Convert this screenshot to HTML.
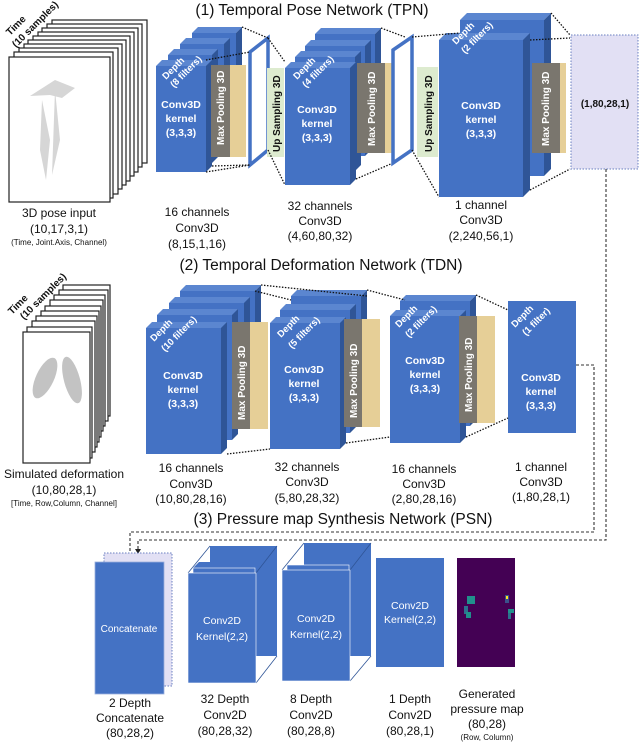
<!DOCTYPE html>
<html><head><meta charset="utf-8"><style>
html,body{margin:0;padding:0;background:#fff}
svg{display:block}
text{font-family:"Liberation Sans",sans-serif}
.w{fill:#fff;font-size:10.5px;font-weight:bold;text-anchor:middle}
.l{fill:#111;font-size:12px;text-anchor:middle}
.s{fill:#111;font-size:8px;text-anchor:middle}
.t{fill:#111;font-size:15.5px;text-anchor:middle}
.f{fill:#4472C4}.tp{fill:#5B86D0}.sd{fill:#2F5597}
.dot{stroke:#111;stroke-width:1.3;stroke-dasharray:1.5 1.5;fill:none}
.dash{stroke:#333;stroke-width:1.1;stroke-dasharray:3 2;fill:none}
.fr{fill:#fff;stroke:#222;stroke-width:1.2}
</style></head><body>
<svg width="640" height="743" viewBox="0 0 640 743" xmlns="http://www.w3.org/2000/svg">
<defs>
<g id="b">
</g>
</defs>
<!-- ============ TPN ============ -->
<text class="t" x="312" y="15">(1) Temporal Pose Network (TPN)</text>

<!-- input frames -->
<g>
<rect class="fr" x="52" y="20" width="95" height="143" stroke="#aaa"/>
<rect class="fr" x="47" y="24" width="95" height="143" stroke="#999"/>
<rect class="fr" x="42" y="28" width="96" height="144"/>
<rect class="fr" x="38" y="32" width="96" height="144" stroke="#999"/>
<rect class="fr" x="33" y="36" width="97" height="145"/>
<rect class="fr" x="28" y="40" width="98" height="145" stroke="#aaa"/>
<rect class="fr" x="24" y="44" width="98" height="145"/>
<rect class="fr" x="19" y="48" width="99" height="146" stroke="#999"/>
<rect class="fr" x="14" y="52" width="99" height="146"/>
<rect class="fr" x="9" y="57" width="101" height="145" stroke="#111" stroke-width="1.5"/>
<path d="M30,96 L55,80 L75,88 L62,98 L50,95 Z M42,100 L50,140 L46,180 L40,150 Z M55,90 L60,140 L52,175 Z" fill="#ccc" opacity="0.8"/>
<text x="0" y="0" transform="translate(10,36) rotate(-45)" style="font-size:10px;font-weight:bold;fill:#111">Time</text>
<text x="0" y="0" transform="translate(16,48) rotate(-45)" style="font-size:10px;font-weight:bold;fill:#111">(10 samples)</text>
</g>
<text class="l" x="59" y="217">3D pose input</text>
<text class="l" x="59" y="233">(10,17,3,1)</text>
<text class="s" x="59" y="245">(Time, Joint.Axis, Channel)</text>

<!-- TPN block1 -->
<g>
<polygon class="tp" points="192,33 198,27 242,27 236,33"/><polygon class="sd" points="236,33 242,27 242,132 236,138"/><rect class="f" x="192" y="33" width="44" height="105"/>
<polygon class="tp" points="180,44 186,38 230,38 224,44"/><polygon class="sd" points="224,44 230,38 230,143 224,149"/><rect class="f" x="180" y="44" width="44" height="105"/>
<polygon class="tp" points="168,55 174,49 218,49 212,55"/><polygon class="sd" points="212,55 218,49 218,157 212,163"/><rect class="f" x="168" y="55" width="44" height="108"/>
<polygon class="tp" points="156,66 162,60 212,60 206,66"/><polygon class="sd" points="206,66 212,60 212,166 206,172"/><rect class="f" x="156" y="66" width="50" height="106"/>
<rect x="211" y="65" width="35" height="92" fill="#E6CF97"/><rect x="211" y="65" width="19" height="92" fill="#666" opacity="0.85"/>
<text x="0" y="0" transform="translate(224,145) rotate(-90)" style="font-size:10px;font-weight:bold;fill:#fff">Max Pooling 3D</text>
<text x="0" y="0" transform="translate(166,80) rotate(-45)" style="font-size:9.5px;font-weight:bold;fill:#fff">Depth</text>
<text x="0" y="0" transform="translate(174,88) rotate(-45)" style="font-size:9.5px;font-weight:bold;fill:#fff">(8 filters)</text>
<text class="w" x="181" y="108">Conv3D</text><text class="w" x="181" y="122">kernel</text><text class="w" x="181" y="136">(3,3,3)</text>
</g>
<polygon points="250,52 268,38 268,150 250,165" fill="#fff" stroke="#4472C4" stroke-width="3.5"/>
<rect x="267" y="68" width="17" height="89" fill="#DDEBCF"/>
<text x="0" y="0" transform="translate(280,152) rotate(-90)" style="font-size:10px;font-weight:bold;fill:#111">Up Sampling 3D</text>
<path class="dot" d="M206,60 L250,52 M242,27 L268,38 M212,166 L250,165 M206,172 L250,165"/>

<!-- TPN block2 -->
<g>
<polygon class="tp" points="315,34 321,28 381,28 375,34"/><polygon class="sd" points="375,34 381,28 381,133 375,139"/><rect class="f" x="315" y="34" width="60" height="105"/>
<polygon class="tp" points="305,46 311,40 371,40 365,46"/><polygon class="sd" points="365,46 371,40 371,150 365,156"/><rect class="f" x="305" y="46" width="60" height="110"/>
<polygon class="tp" points="295,57 301,51 361,51 355,57"/><polygon class="sd" points="355,57 361,51 361,165 355,171"/><rect class="f" x="295" y="57" width="60" height="114"/>
<polygon class="tp" points="285,68 291,62 356,62 350,68"/><polygon class="sd" points="350,68 356,62 356,179 350,185"/><rect class="f" x="285" y="68" width="65" height="117"/>
<rect x="357" y="63" width="36" height="90" fill="#E6CF97"/><rect x="357" y="63" width="28" height="90" fill="#666" opacity="0.85"/>
<text x="0" y="0" transform="translate(375,146) rotate(-90)" style="font-size:10px;font-weight:bold;fill:#fff">Max Pooling 3D</text>
<text x="0" y="0" transform="translate(297,80) rotate(-45)" style="font-size:9.5px;font-weight:bold;fill:#fff">Depth</text>
<text x="0" y="0" transform="translate(306,88) rotate(-45)" style="font-size:9.5px;font-weight:bold;fill:#fff">(4 filters)</text>
<text class="w" x="317" y="113">Conv3D</text><text class="w" x="317" y="127">kernel</text><text class="w" x="317" y="141">(3,3,3)</text>
</g>
<path class="dot" d="M268,38 L285,62 M268,150 L285,185 M381,28 L405,37 M356,179 L393,163"/>
<polygon points="393,50 412,37 412,150 393,163" fill="#fff" stroke="#4472C4" stroke-width="3.5"/>
<rect x="417" y="67" width="21" height="90" fill="#DDEBCF"/>
<text x="0" y="0" transform="translate(432,152) rotate(-90)" style="font-size:10px;font-weight:bold;fill:#111">Up Sampling 3D</text>

<!-- TPN block3 -->
<g>
<polygon class="tp" points="460,20 467,13 551,13 544,20"/><polygon class="sd" points="544,20 551,13 551,169 544,176"/><rect class="f" x="460" y="20" width="84" height="156"/>
<polygon class="tp" points="439,40 446,33 530,33 523,40"/><polygon class="sd" points="523,40 530,33 530,190 523,197"/><rect class="f" x="439" y="40" width="84" height="157"/>
<rect x="532" y="63" width="34" height="90" fill="#E6CF97"/><rect x="532" y="63" width="28" height="90" fill="#666" opacity="0.85"/>
<text x="0" y="0" transform="translate(549,146) rotate(-90)" style="font-size:10px;font-weight:bold;fill:#fff">Max Pooling 3D</text>
<text x="0" y="0" transform="translate(456,45) rotate(-45)" style="font-size:9.5px;font-weight:bold;fill:#fff">Depth</text>
<text x="0" y="0" transform="translate(465,54) rotate(-45)" style="font-size:9.5px;font-weight:bold;fill:#fff">(2 filters)</text>
<text class="w" x="481" y="109">Conv3D</text><text class="w" x="481" y="123">kernel</text><text class="w" x="481" y="137">(3,3,3)</text>
</g>
<path class="dot" d="M412,37 L460,33 M412,150 L439,197 M551,13 L570,35 M530,190 L570,169 M530,40 L570,38"/>
<rect x="571" y="35" width="67" height="134" fill="#E2E0F4" stroke="#6a7fc0" stroke-width="1" stroke-dasharray="1.5 1.5"/>
<text x="605" y="107" style="font-size:10px;font-weight:bold;fill:#111;text-anchor:middle">(1,80,28,1)</text>

<text class="l" x="197" y="216">16 channels</text><text class="l" x="197" y="232">Conv3D</text><text class="l" x="197" y="248">(8,15,1,16)</text>
<text class="l" x="320" y="210">32 channels</text><text class="l" x="320" y="225">Conv3D</text><text class="l" x="320" y="240">(4,60,80,32)</text>
<text class="l" x="481" y="209">1 channel</text><text class="l" x="481" y="224">Conv3D</text><text class="l" x="481" y="240">(2,240,56,1)</text>

<!-- ============ TDN ============ -->
<text class="t" x="321" y="270">(2) Temporal Deformation Network (TDN)</text>
<g>
<rect class="fr" x="63" y="285" width="47" height="131" stroke="#bbb"/>
<rect class="fr" x="59" y="290" width="49" height="131" stroke="#aaa"/>
<rect class="fr" x="54" y="295" width="51" height="131"/>
<rect class="fr" x="50" y="300" width="53" height="131" stroke="#aaa"/>
<rect class="fr" x="45" y="306" width="56" height="131"/>
<rect class="fr" x="41" y="311" width="58" height="131" stroke="#aaa"/>
<rect class="fr" x="36" y="316" width="61" height="131"/>
<rect class="fr" x="32" y="321" width="63" height="131" stroke="#999"/>
<rect class="fr" x="27" y="327" width="65" height="131"/>
<rect class="fr" x="23" y="332" width="67" height="131" stroke="#111" stroke-width="1.5"/>
<ellipse cx="45" cy="378" rx="9" ry="22" fill="#aaa" opacity="0.7" transform="rotate(25 45 378)"/>
<ellipse cx="72" cy="380" rx="8" ry="24" fill="#aaa" opacity="0.7" transform="rotate(-15 72 380)"/>
<text x="0" y="0" transform="translate(12,315) rotate(-45)" style="font-size:10px;font-weight:bold;fill:#111">Time</text>
<text x="0" y="0" transform="translate(24,320) rotate(-45)" style="font-size:10px;font-weight:bold;fill:#111">(10 samples)</text>
</g>
<text class="l" x="64" y="478">Simulated deformation</text>
<text class="l" x="64" y="494">(10,80,28,1)</text>
<text class="s" x="64" y="506">[Time, Row,Column, Channel]</text>

<!-- TDN block1 -->
<g>
<polygon class="tp" points="180,291 186,285 261,285 255,291"/><polygon class="sd" points="255,291 261,285 261,405 255,411"/><rect class="f" x="180" y="291" width="75" height="120"/>
<polygon class="tp" points="169,303 175,297 250,297 244,303"/><polygon class="sd" points="244,303 250,297 250,418 244,424"/><rect class="f" x="169" y="303" width="75" height="121"/>
<polygon class="tp" points="157,315 163,309 238,309 232,315"/><polygon class="sd" points="232,315 238,309 238,434 232,440"/><rect class="f" x="157" y="315" width="75" height="125"/>
<polygon class="tp" points="146,328 152,322 227,322 221,328"/><polygon class="sd" points="221,328 227,322 227,448 221,454"/><rect class="f" x="146" y="328" width="75" height="126"/>
<rect x="232" y="322" width="36" height="107" fill="#E6CF97"/><rect x="232" y="322" width="18" height="107" fill="#666" opacity="0.85"/>
<text x="0" y="0" transform="translate(245,420) rotate(-90)" style="font-size:10px;font-weight:bold;fill:#fff">Max Pooling 3D</text>
<text x="0" y="0" transform="translate(154,342) rotate(-45)" style="font-size:9.5px;font-weight:bold;fill:#fff">Depth</text>
<text x="0" y="0" transform="translate(165,352) rotate(-45)" style="font-size:9.5px;font-weight:bold;fill:#fff">(10 filters)</text>
<text class="w" x="183" y="379">Conv3D</text><text class="w" x="183" y="393">kernel</text><text class="w" x="183" y="407">(3,3,3)</text>
</g>
<!-- TDN block2 -->
<g>
<polygon class="tp" points="291,296 297,290 367,290 361,296"/><polygon class="sd" points="361,296 367,290 367,410 361,416"/><rect class="f" x="291" y="296" width="70" height="120"/>
<polygon class="tp" points="280,310 286,304 356,304 350,310"/><polygon class="sd" points="350,310 356,304 356,427 350,433"/><rect class="f" x="280" y="310" width="70" height="123"/>
<polygon class="tp" points="270,323 276,317 346,317 340,323"/><polygon class="sd" points="340,323 346,317 346,443 340,449"/><rect class="f" x="270" y="323" width="70" height="126"/>
<rect x="344" y="319" width="36" height="108" fill="#E6CF97"/><rect x="344" y="319" width="18" height="108" fill="#666" opacity="0.85"/>
<text x="0" y="0" transform="translate(357,418) rotate(-90)" style="font-size:10px;font-weight:bold;fill:#fff">Max Pooling 3D</text>
<text x="0" y="0" transform="translate(281,338) rotate(-45)" style="font-size:9.5px;font-weight:bold;fill:#fff">Depth</text>
<text x="0" y="0" transform="translate(292,349) rotate(-45)" style="font-size:9.5px;font-weight:bold;fill:#fff">(5 filters)</text>
<text class="w" x="304" y="373">Conv3D</text><text class="w" x="304" y="387">kernel</text><text class="w" x="304" y="401">(3,3,3)</text>
</g>
<!-- TDN block3 -->
<g>
<polygon class="tp" points="400,301 406,295 476,295 470,301"/><polygon class="sd" points="470,301 476,295 476,420 470,426"/><rect class="f" x="400" y="301" width="70" height="125"/>
<polygon class="tp" points="390,316 396,310 466,310 460,316"/><polygon class="sd" points="460,316 466,310 466,437 460,443"/><rect class="f" x="390" y="316" width="70" height="127"/>
<rect x="459" y="316" width="36" height="107" fill="#E6CF97"/><rect x="459" y="316" width="18" height="107" fill="#666" opacity="0.85"/>
<text x="0" y="0" transform="translate(472,412) rotate(-90)" style="font-size:10px;font-weight:bold;fill:#fff">Max Pooling 3D</text>
<text x="0" y="0" transform="translate(399,328) rotate(-45)" style="font-size:9.5px;font-weight:bold;fill:#fff">Depth</text>
<text x="0" y="0" transform="translate(409,338) rotate(-45)" style="font-size:9.5px;font-weight:bold;fill:#fff">(2 filters)</text>
<text class="w" x="425" y="364">Conv3D</text><text class="w" x="425" y="378">kernel</text><text class="w" x="425" y="392">(3,3,3)</text>
</g>
<!-- TDN block4 -->
<rect class="f" x="508" y="301" width="68" height="132"/>
<text x="0" y="0" transform="translate(515,328) rotate(-45)" style="font-size:9.5px;font-weight:bold;fill:#fff">Depth</text>
<text x="0" y="0" transform="translate(526,336) rotate(-45)" style="font-size:9.5px;font-weight:bold;fill:#fff">(1 filter)</text>
<text class="w" x="541" y="381">Conv3D</text><text class="w" x="541" y="395">kernel</text><text class="w" x="541" y="409">(3,3,3)</text>
<path class="dot" d="M261,285 L367,296 M227,454 L270,449 M255,291 L291,300 M367,290 L405,300 M346,443 L390,437 M476,295 L508,310 M466,437 L508,418"/>

<text class="l" x="191" y="472">16 channels</text><text class="l" x="191" y="488">Conv3D</text><text class="l" x="191" y="503">(10,80,28,16)</text>
<text class="l" x="307" y="471">32 channels</text><text class="l" x="307" y="486">Conv3D</text><text class="l" x="307" y="502">(5,80,28,32)</text>
<text class="l" x="424" y="473">16 channels</text><text class="l" x="424" y="488">Conv3D</text><text class="l" x="424" y="503">(2,80,28,16)</text>
<text class="l" x="541" y="471">1 channel</text><text class="l" x="541" y="486">Conv3D</text><text class="l" x="541" y="501">(1,80,28,1)</text>

<!-- connectors -->
<path class="dash" d="M606,169 L606,540 L138,540 L138,549"/>
<polygon points="135,549 141,549 138,554" fill="#222"/>
<path class="dash" d="M576,365 L594,365 L594,532 L130,532 L130,558"/>
<polygon points="127,558 133,558 130,563" fill="#222"/>

<!-- ============ PSN ============ -->
<text class="t" x="343" y="524">(3) Pressure map Synthesis Network (PSN)</text>
<rect x="104" y="553" width="68" height="133" fill="#E2E0F4" stroke="#6a7fc0" stroke-dasharray="1.5 1.5"/>
<rect class="f" x="95" y="562" width="69" height="132" stroke="#9bb0dd" stroke-width="0.8"/>
<text class="w" x="129" y="632" style="font-weight:normal;font-size:10px">Concatenate</text>

<g>
<rect class="f" x="210" y="546" width="67" height="110"/>
<path d="M188,573 L210,546 M256,573 L277,546 M256,683 L277,656" stroke="#2F5597" stroke-width="0.8" fill="none"/>
<polygon class="f" points="193,568 199,562 260,562 254,568" />
<rect class="f" x="193" y="568" width="62" height="100" stroke="#fff" stroke-width="0.6"/>
<rect class="f" x="188" y="573" width="68" height="110" stroke="#fff" stroke-width="0.6"/>
<text class="w" x="222" y="624" style="font-weight:normal;font-size:10.5px">Conv2D</text>
<text class="w" x="222" y="640" style="font-weight:normal;font-size:10.5px">Kernel(2,2)</text>
</g>
<g>
<rect class="f" x="304" y="543" width="67" height="113"/>
<path d="M282,570 L304,543 M350,570 L371,543 M350,681 L371,656" stroke="#2F5597" stroke-width="0.8" fill="none"/>
<rect class="f" x="287" y="565" width="62" height="100" stroke="#fff" stroke-width="0.6"/>
<rect class="f" x="282" y="570" width="68" height="111" stroke="#fff" stroke-width="0.6"/>
<text class="w" x="316" y="622" style="font-weight:normal;font-size:10.5px">Conv2D</text>
<text class="w" x="316" y="638" style="font-weight:normal;font-size:10.5px">Kernel(2,2)</text>
</g>
<rect class="f" x="376" y="558" width="68" height="109"/>
<text class="w" x="410" y="609" style="font-weight:normal;font-size:10.5px">Conv2D</text>
<text class="w" x="410" y="623" style="font-weight:normal;font-size:10.5px">Kernel(2,2)</text>

<rect x="457" y="558" width="58" height="109" fill="#440154"/>
<rect x="467" y="596" width="8" height="8" fill="#21908C"/>
<rect x="464" y="606" width="4" height="8" fill="#2C728E"/><rect x="466" y="612" width="5" height="6" fill="#21908C"/>
<rect x="505" y="595" width="4" height="8" fill="#3B528B"/><rect x="506" y="596" width="2" height="3" fill="#FDE725"/>
<rect x="508" y="609" width="6" height="4" fill="#21908C"/><rect x="508" y="613" width="3" height="6" fill="#2C728E"/>

<text class="l" x="130" y="707">2 Depth</text><text class="l" x="130" y="722">Concatenate</text><text class="l" x="130" y="737">(80,28,2)</text>
<text class="l" x="225" y="703">32 Depth</text><text class="l" x="225" y="719">Conv2D</text><text class="l" x="225" y="735">(80,28,32)</text>
<text class="l" x="311" y="703">8 Depth</text><text class="l" x="311" y="719">Conv2D</text><text class="l" x="311" y="735">(80,28,8)</text>
<text class="l" x="410" y="703">1 Depth</text><text class="l" x="410" y="719">Conv2D</text><text class="l" x="410" y="735">(80,28,1)</text>
<text class="l" x="487" y="698">Generated</text><text class="l" x="487" y="713">pressure map</text><text class="l" x="487" y="728">(80,28)</text>
<text class="s" x="487" y="740">(Row, Column)</text>
</svg>
</body></html>
